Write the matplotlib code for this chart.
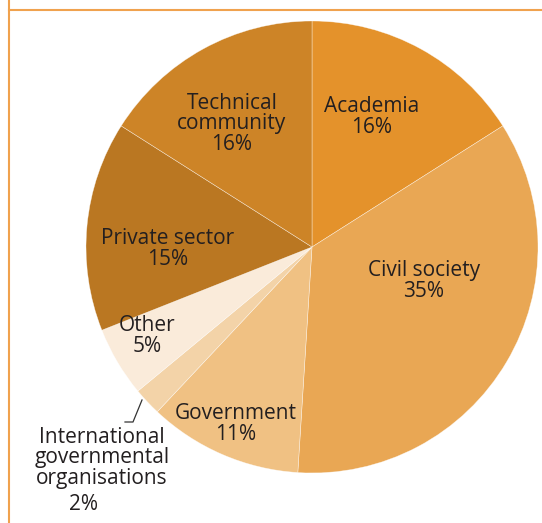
import matplotlib.pyplot as plt
from matplotlib.lines import Line2D

plt.rcParams['font.family'] = ['Open Sans', 'DejaVu Sans']

categories = ['Academia', 'Civil society', 'Government',
              'International governmental organisations', 'Other',
              'Private sector', 'Technical community']
shares = [16, 35, 11, 2, 5, 15, 16]
colors = ['#E4922B', '#E9A754', '#F0C183', '#F3D3A8', '#FAEBDA',
          '#BA7722', '#CD8427']
# label text and its centre, in pixels from the top-left of the picture
labels = ['Academia\n16%', 'Civil society\n35%', 'Government\n11%', None,
          'Other\n5%', 'Private sector\n15%', 'Technical\ncommunity\n16%']
label_pos = [(372, 117), (424, 281), (236, 424), None,
             (147, 336), (168, 249), (232, 124)]

W, H = 542, 523
fig = plt.figure(figsize=(W / 100, H / 100), dpi=100)
ax = fig.add_axes([0, 0, 1, 1])

cx, cy, R = 312, H - 247, 226
ax.pie(shares, colors=colors, startangle=90, counterclock=False,
       center=(cx, cy), radius=R, frame=True,
       wedgeprops=dict(edgecolor=(1, 1, 1, 0.6), linewidth=0.4))
ax.set_xlim(0, W)
ax.set_ylim(0, H)
ax.axis('off')

txt = '#231F20'
fs = 15
for lab, pos in zip(labels, label_pos):
    if lab is None:
        continue
    ax.text(pos[0], H - pos[1], lab, ha='center', va='center',
            fontsize=fs, color=txt, linespacing=0.95)

# small slice gets an outside label with a leader line
ax.text(102, H - 458, 'International\ngovernmental\norganisations',
        ha='center', va='center', fontsize=fs, color=txt, linespacing=0.95)
ax.text(84, H - 505, '2%', ha='center', va='center', fontsize=fs, color=txt)
ax.add_line(Line2D([142, 133, 125], [H - 400, H - 422, H - 422],
                   color='#333333', lw=0.9))

# frame lines
frame = '#F0A24E'
ax.add_line(Line2D([9, 9], [0, H], color=frame, lw=1.5))
ax.add_line(Line2D([9, W], [H - 10, H - 10], color=frame, lw=1.5))

fig.savefig('out.png', dpi=100)
